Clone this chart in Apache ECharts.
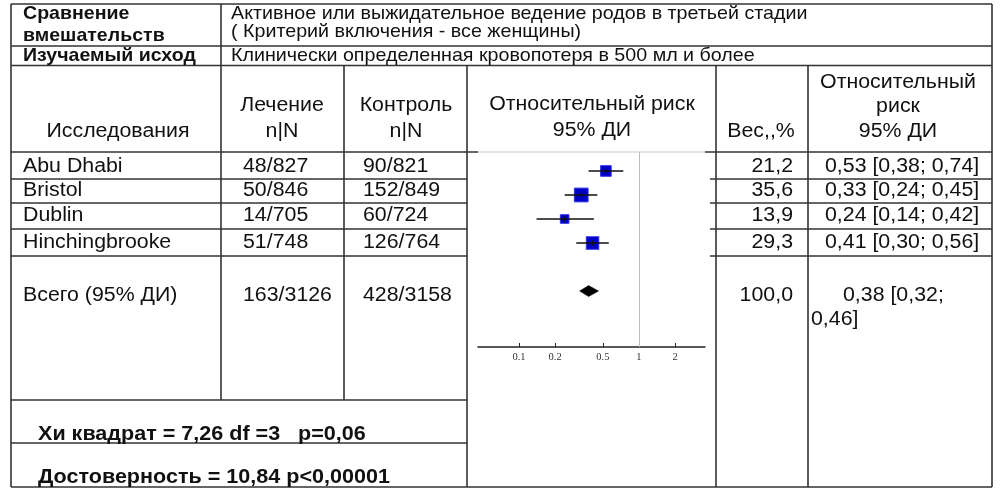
<!DOCTYPE html>
<html>
<head>
<meta charset="utf-8">
<script src="https://cdn.jsdelivr.net/npm/echarts@6/dist/echarts.min.js"></script>
<style>
html,body{margin:0;padding:0;background:#fff;}
#chart{width:1000px;height:499px;}
</style>
</head>
<body>
<div id="chart"></div>
<script>
// ---- data ----
const studies = ['Abu Dhabi', 'Bristol', 'Dublin', 'Hinchingbrooke'];
const treatN = ['48/827', '50/846', '14/705', '51/748'];
const controlN = ['90/821', '152/849', '60/724', '126/764'];
const weights = [21.2, 35.6, 13.9, 29.3];
const rr = [0.53, 0.33, 0.24, 0.41];
const rrLow = [0.38, 0.24, 0.14, 0.30];
const rrHigh = [0.74, 0.45, 0.42, 0.56];
const totalLabel = 'Всего (95% ДИ)';
const totalTreat = '163/3126';
const totalControl = '428/3158';
const totalWeight = 100.0;
const totalRR = 0.38;
const totalLow = 0.32;
const totalHigh = 0.46;
const axisTicks = [0.1, 0.2, 0.5, 1, 2];
const compareLabel = ['Сравнение', 'вмешательств'];
const compareText = ['Активное или выжидательное ведение родов в третьей стадии', '( Критерий включения - все женщины)'];
const outcomeLabel = 'Изучаемый исход';
const outcomeText = 'Клинически определенная кровопотеря в 500 мл и более';
const heteroText = 'Хи квадрат = 7,26 df =3   p=0,06';
const overallText = 'Достоверность = 10,84 p<0,00001';

// ---- helpers ----
const fmt1 = v => v.toFixed(1).replace('.', ',');
const fmt2 = v => v.toFixed(2).replace('.', ',');
const SX = 1.1;
const FONT = '"Liberation Sans", Arial, sans-serif';
const INK = '#111';
const LINE = '#333';

function T(text, x, base, fs, align, bold) {
  return {
    type: 'text', x: x, y: base - 0.35 * fs + 1, scaleX: SX, z: 20, silent: true,
    style: {
      text: text, fill: INK,
      font: (bold ? 'bold ' : '') + fs + 'px ' + FONT,
      textAlign: align || 'left', align: align || 'left',
      textVerticalAlign: 'middle', verticalAlign: 'middle'
    }
  };
}
function Ln(x1, y1, x2, y2, color, w) {
  return { type: 'line', z: 15, silent: true,
    shape: { x1: x1, y1: y1, x2: x2, y2: y2 },
    style: { stroke: color || LINE, lineWidth: w || 1.6 } };
}

const L = 11, R = 992;
const g = [];
// horizontal rules
g.push(Ln(L, 4, R, 4), Ln(L, 46, R, 46), Ln(L, 65.5, R, 65.5), Ln(L, 487, R, 487));
g.push(Ln(L, 152, 478, 152), Ln(478, 152, 705, 152, '#cccccc', 1.2), Ln(705, 152, R, 152));
[179, 203, 229, 256].forEach(y => { g.push(Ln(L, y, 467, y), Ln(710, y, R, y)); });
g.push(Ln(L, 400, 467, 400), Ln(L, 443, 467, 443));
// vertical rules
g.push(Ln(L, 4, L, 487), Ln(221, 4, 221, 400), Ln(344, 65.5, 344, 400), Ln(467, 65.5, 467, 487),
       Ln(716, 65.5, 716, 487), Ln(808, 65.5, 808, 487), Ln(R, 4, R, 487));

// top texts
g.push(T(compareLabel[0], 23, 19, 17.8, 'left', true));
g.push(T(compareLabel[1], 23, 41, 17.8, 'left', true));
g.push(T(compareText[0], 231, 19, 17.9, 'left'));
g.push(T(compareText[1], 231, 37, 17.9, 'left'));
g.push(T(outcomeLabel, 23, 61, 17.8, 'left', true));
g.push(T(outcomeText, 231, 61, 17.9, 'left'));

// column headers
const FS = 19.4;
g.push(T('Исследования', 118, 137, FS, 'center'));
g.push(T('Лечение', 282, 111, FS, 'center'), T('n|N', 282, 137, FS, 'center'));
g.push(T('Контроль', 406, 111, FS, 'center'), T('n|N', 406, 137, FS, 'center'));
g.push(T('Относительный риск', 592, 110, FS, 'center'), T('95% ДИ', 592, 136, FS, 'center'));
g.push(T('Вес,,%', 761, 137, FS, 'center'));
g.push(T('Относительный', 898, 88, FS, 'center'), T('риск', 898, 112, FS, 'center'), T('95% ДИ', 898, 137, FS, 'center'));

// study rows
const rowBase = [172, 196, 221, 248];
studies.forEach((s, i) => {
  const b = rowBase[i];
  g.push(T(s, 23, b, FS));
  g.push(T(treatN[i], 243, b, FS));
  g.push(T(controlN[i], 363, b, FS));
  g.push(T(fmt1(weights[i]), 793, b, FS, 'right'));
  g.push(T(fmt2(rr[i]) + ' [' + fmt2(rrLow[i]) + '; ' + fmt2(rrHigh[i]) + ']', 825, b, FS));
});
// total row
g.push(T(totalLabel, 23, 301, FS));
g.push(T(totalTreat, 243, 301, FS));
g.push(T(totalControl, 363, 301, FS));
g.push(T(fmt1(totalWeight), 793, 301, FS, 'right'));
g.push(T(fmt2(totalRR) + ' [' + fmt2(totalLow) + ';', 843, 301, FS));
g.push(T(fmt2(totalHigh) + ']', 811, 325, FS));

// bottom statistics
g.push(T(heteroText, 38, 440, 19.6, 'left', true));
g.push(T(overallText, 38, 483, 19.6, 'left', true));

// ---- forest plot data built from arrays ----
const ciData = studies.map((s, i) => [rrLow[i], rrHigh[i], i, rr[i]]);
const sqData = studies.map((s, i) => ({ value: [rr[i], i], symbolSize: 2.3 * Math.sqrt(weights[i]) }));
const totalY = studies.length + 1;
const diaData = [[totalLow, totalHigh, totalY, totalRR]];

const chart = echarts.init(document.getElementById('chart'), null, { renderer: 'canvas' });
chart.setOption({
  animation: false,
  backgroundColor: '#fff',
  grid: { left: 478, right: 295, top: 152, bottom: 152 },
  xAxis: {
    type: 'log', logBase: 10, min: 0.0455, max: 3.55,
    axisLine: { show: true, onZero: false, lineStyle: { color: '#222', width: 1.5 } },
    axisTick: { show: true, inside: true, length: 4, customValues: axisTicks, lineStyle: { color: '#222', width: 1 } },
    axisLabel: { show: true, customValues: axisTicks, margin: 5, fontFamily: '"Liberation Serif", serif', fontSize: 10.5, color: '#333',
      formatter: v => String(Math.round(v * 10) / 10) },
    splitLine: { show: false }, minorTick: { show: false }
  },
  yAxis: { type: 'value', inverse: true, min: -0.79, max: 7.33, show: false },
  graphic: { elements: g },
  series: [
    {
      type: 'scatter', data: sqData, symbol: 'rect', z: 3,
      itemStyle: { color: '#0000c8', borderColor: '#3030e8', borderWidth: 1, opacity: 1 },
      markLine: { silent: true, symbol: 'none', label: { show: false },
        lineStyle: { color: '#bdbdbd', width: 1, type: 'solid' }, data: [{ xAxis: 1 }] }
    },
    {
      type: 'custom', z: 4, data: ciData,
      renderItem: (params, api) => {
        const a = api.coord([api.value(0), api.value(2)]);
        const b = api.coord([api.value(1), api.value(2)]);
        const c = api.coord([api.value(3), api.value(2)]);
        return { type: 'group', children: [
          { type: 'line', shape: { x1: a[0], y1: a[1], x2: b[0], y2: b[1] }, style: { stroke: '#111', lineWidth: 1.6 } },
          { type: 'line', shape: { x1: c[0], y1: c[1] - 2.5, x2: c[0], y2: c[1] + 2.5 }, style: { stroke: '#111', lineWidth: 1 } }
        ] };
      }
    },
    {
      type: 'custom', z: 4, data: diaData,
      renderItem: (params, api) => {
        const a = api.coord([api.value(0), api.value(2)]);
        const b = api.coord([api.value(1), api.value(2)]);
        const c = api.coord([api.value(3), api.value(2)]);
        return { type: 'polygon', shape: { points: [[a[0], a[1]], [c[0], c[1] - 5.5], [b[0], b[1]], [c[0], c[1] + 5.5]] },
          style: { fill: '#000', stroke: '#000', lineWidth: 0.5 } };
      }
    }
  ]
});
</script>
</body>
</html>
